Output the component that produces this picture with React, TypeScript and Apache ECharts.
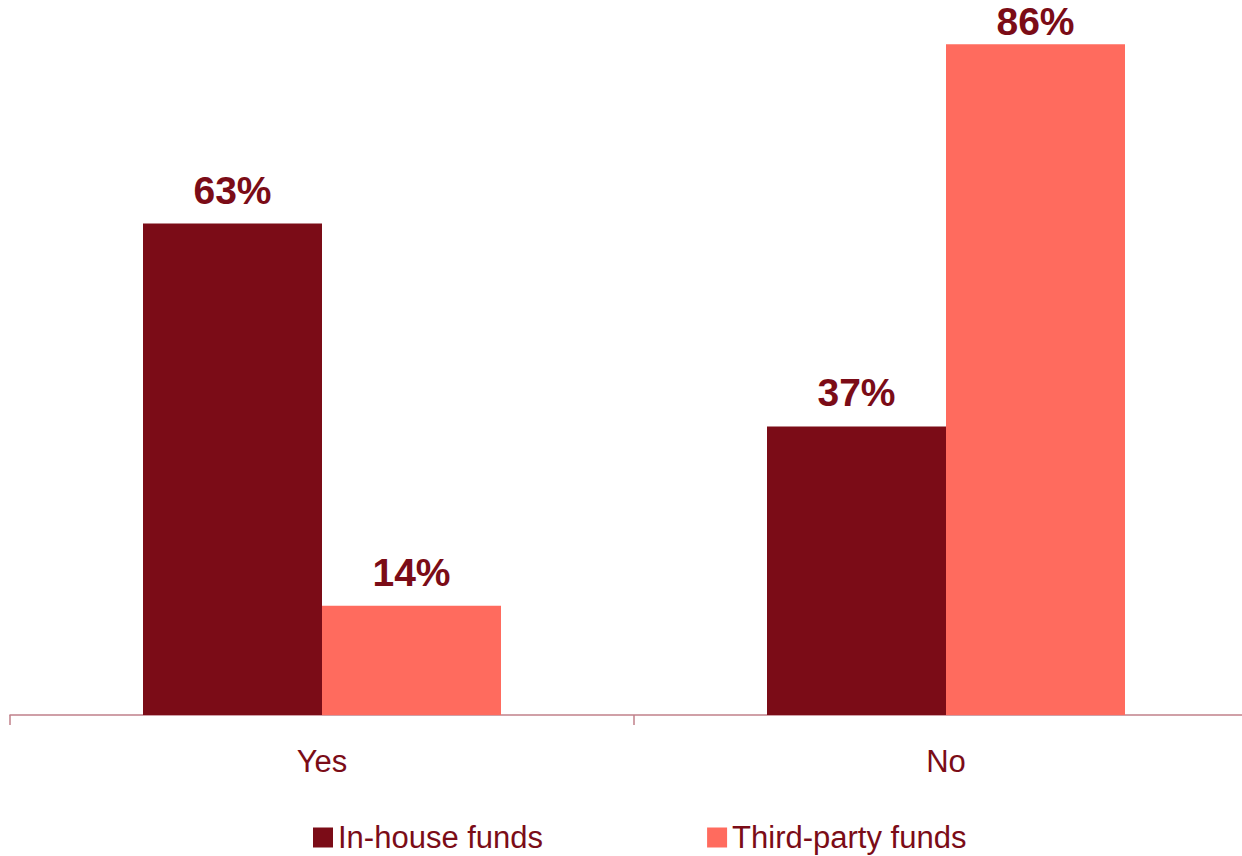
import React, { useEffect, useRef } from "react";
import * as echarts from "echarts";

const categories = ["Yes", "No"];
const inHouse = [63, 37];
const thirdParty = [14, 86];
const seriesNames = ["In-house funds", "Third-party funds"];

const DARK = "#7B0C17";
const CORAL = "#FF6B5E";
const FONT = "'Liberation Sans', Arial, sans-serif";

export default function App() {
  const ref = useRef<HTMLDivElement>(null);
  useEffect(() => {
    if (!ref.current) return;
    const chart = echarts.init(ref.current, null, { renderer: "svg" });
    const label = {
      show: true,
      position: "top",
      distance: 14,
      formatter: "{c}%",
      color: DARK,
      fontWeight: "bold",
      fontSize: 39,
      fontFamily: FONT,
    };
    const toData = (vals: number[]) =>
      vals.map((v) => (v > 80 ? { value: v, label: { distance: 3 } } : v));
    chart.setOption({
      animation: false,
      textStyle: { fontFamily: FONT },
      grid: { left: 10, right: 0, top: 13, bottom: 141, containLabel: false },
      legend: {
        data: seriesNames,
        left: 313,
        top: 822,
        padding: 0,
        itemWidth: 20,
        itemHeight: 20,
        itemGap: 164,
        icon: "rect",
        textStyle: { color: DARK, fontSize: 31, fontFamily: FONT },
      },
      xAxis: {
        type: "category",
        data: categories,
        axisLine: { show: true, lineStyle: { color: "#C0808A", width: 1.5 } },
        axisTick: { show: true, length: 10, lineStyle: { color: "#C0808A", width: 1.5 } },
        axisLabel: { color: DARK, fontSize: 31, margin: 31, fontFamily: FONT },
      },
      yAxis: {
        type: "value",
        min: 0,
        max: 90,
        show: false,
        splitLine: { show: false },
      },
      series: [
        {
          name: seriesNames[0],
          type: "bar",
          data: toData(inHouse),
          barWidth: 179,
          barGap: "0%",
          itemStyle: { color: DARK },
          label,
        },
        {
          name: seriesNames[1],
          type: "bar",
          data: toData(thirdParty),
          barWidth: 179,
          barGap: "0%",
          itemStyle: { color: CORAL },
          label,
        },
      ],
    });
    return () => chart.dispose();
  }, []);
  return (
    <div
      style={{
        position: "fixed",
        left: 0,
        top: 0,
        width: 1242,
        height: 856,
        overflow: "hidden",
        background: "#fff",
      }}
    >
      <div ref={ref} style={{ width: 1258, height: 856 }} />
    </div>
  );
}
